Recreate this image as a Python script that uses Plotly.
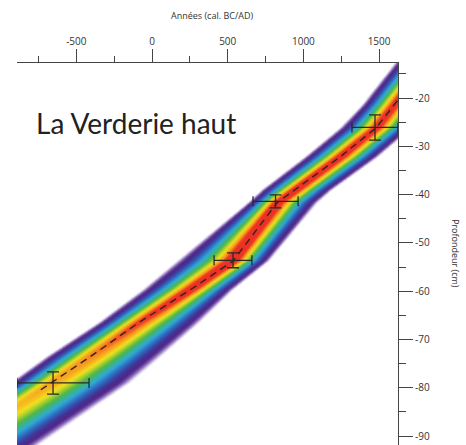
import numpy as np
import plotly.graph_objects as go

# ---- age-depth model (depth in cm, ages in cal. BC/AD) ----
model_depth = [-12.75, -21.45, -26.2, -32.2, -39.05, -41.7, -53.75, -59.75, -66.6, -73.6, -79.0, -91.85]
model_median = [1816, 1598, 1480, 1242, 944, 826, 535, 251, -92, -410, -667, -1281]
# outer (purple) edges of the probability band
model_edge_old = [1605, 1387, 1242, 1011, 726, 634, 172, -59, -356, -700, -940, -1600]
model_edge_young = [2047, 1829, 1711, 1486, 1182, 1084, 766, 528, 304, 53, -145, -740]
# relative peak intensity of the band
model_peak = [1.0, 1.0, 1.0, 1.02, 1.03, 1.03, 1.03, 1.02, 0.97, 0.92, 0.88, 0.8]
core_bottom = -81.0

# ---- dated levels ----
date_depth = [-79.0, -53.6, -41.4, -26.1]
date_age = [-654, 535, 816, 1473]
date_age_err = [238, 125, 149, 152]
date_depth_err = [2.3, 1.55, 1.35, 2.6]

# ---- axes ----
x_ticks = [-500, 0, 500, 1000, 1500]
x_minor = [-750, -250, 250, 750, 1250]
y_ticks = [-20, -30, -40, -50, -60, -70, -80, -90]
y_minor = [-15, -25, -35, -45, -55, -65, -75, -85]
x_range = [-892, 1625]
y_range = [-91.85, -12.75]

# ---- density grid for the band ----
dep_inc = np.array(model_depth[::-1])
def at(depths, values):
    return np.interp(depths, dep_inc, np.array(values[::-1], dtype=float))

ages = np.arange(-905.0, 1650.0, 10.0)
depths = np.arange(-92.3, -12.2, 0.35)
med = at(depths, model_median)
s_old = (med - at(depths, model_edge_old)) / 2.35
s_young = (at(depths, model_edge_young) - med) / 2.35
peak = at(depths, model_peak)
D = ages[None, :] - med[:, None]
S = np.where(D < 0, s_old[:, None], s_young[:, None])
z = np.round(peak[:, None] * np.exp(-0.5 * (D / S) ** 2), 3)

colorscale = [
    [0.0, "#ffffff"],
    [0.055, "#ffffff"],
    [0.085, "#876ab8"],
    [0.115, "#52268a"],
    [0.17, "#46308f"],
    [0.245, "#3157b5"],
    [0.40, "#2eaad8"],
    [0.595, "#4cb848"],
    [0.79, "#f3e21e"],
    [0.91, "#f7941e"],
    [0.965, "#ee3a24"],
    [1.0, "#ec3124"],
]

fig = go.Figure()
fig.add_trace(go.Heatmap(
    x=ages, y=depths, z=z, zmin=0, zmax=1, zsmooth="fast",
    colorscale=colorscale, showscale=False, hoverinfo="skip",
))

# median line
line_depth = [d for d in model_depth if d >= core_bottom] + [core_bottom]
line_age = at(np.array(line_depth), model_median)
fig.add_trace(go.Scatter(
    x=line_age, y=line_depth, mode="lines",
    line=dict(color="#352222", width=1.4, dash="7px,5px"),
    hoverinfo="skip", showlegend=False,
))

# dated levels with error bars
fig.add_trace(go.Scatter(
    x=date_age, y=date_depth, mode="markers",
    marker=dict(size=1, color="#2a2a2a"),
    error_x=dict(type="data", array=date_age_err, color="#2a2a2a", thickness=1.3, width=5),
    error_y=dict(type="data", array=date_depth_err, color="#2a2a2a", thickness=1.3, width=6),
    showlegend=False, hoverinfo="skip",
))

axis_col = "#444444"
fig.update_xaxes(
    side="top", range=x_range, tickmode="array", tickvals=x_ticks,
    ticktext=[str(v) for v in x_ticks], ticks="outside", ticklen=13, tickwidth=1.2,
    tickcolor=axis_col, showline=True, linecolor=axis_col, linewidth=1.2,
    showgrid=False, zeroline=False,
    tickfont=dict(family="Open Sans", size=10, color="#333333"),
    minor=dict(tickmode="array", tickvals=x_minor, ticks="outside", ticklen=6,
               tickwidth=1.1, tickcolor=axis_col, showgrid=False),
)
fig.update_yaxes(
    side="right", range=y_range, tickmode="array", tickvals=y_ticks,
    ticktext=[str(v) for v in y_ticks], ticks="outside", ticklen=14, tickwidth=1.2,
    tickcolor=axis_col, showline=True, linecolor=axis_col, linewidth=1.2,
    showgrid=False, zeroline=False,
    tickfont=dict(family="Open Sans", size=10, color="#333333"),
    minor=dict(tickmode="array", tickvals=y_minor, ticks="outside", ticklen=7,
               tickwidth=1.1, tickcolor=axis_col, showgrid=False),
)

fig.update_layout(
    width=466, height=445,
    margin=dict(l=17, r=68, t=63, b=0, pad=0),
    paper_bgcolor="white", plot_bgcolor="white",
    showlegend=False,
    annotations=[
        dict(text="La Verderie haut", xref="paper", yref="paper", x=(34 - 17) / 381, y=(445 - 123) / 382,
             xanchor="left", yanchor="middle", showarrow=False,
             font=dict(family="Lato", size=28, color="#222222")),
        dict(text="Années (cal. BC/AD)", xref="paper", yref="paper",
             x=(212 - 17) / 381, y=1 + (63 - 15) / 382, xanchor="center", yanchor="middle",
             showarrow=False, font=dict(family="Open Sans", size=9, color="#333333")),
        dict(text="Profondeur (cm)", xref="paper", yref="paper",
             x=1 + (456 - 398) / 381, y=(445 - 253) / 382, xanchor="center", yanchor="middle",
             textangle=90, showarrow=False,
             font=dict(family="Open Sans", size=9, color="#333333")),
    ],
)

fig.write_html("out.html", config={"displayModeBar": False},
               post_script="document.body.style.margin='0';document.body.style.overflow='hidden';")
